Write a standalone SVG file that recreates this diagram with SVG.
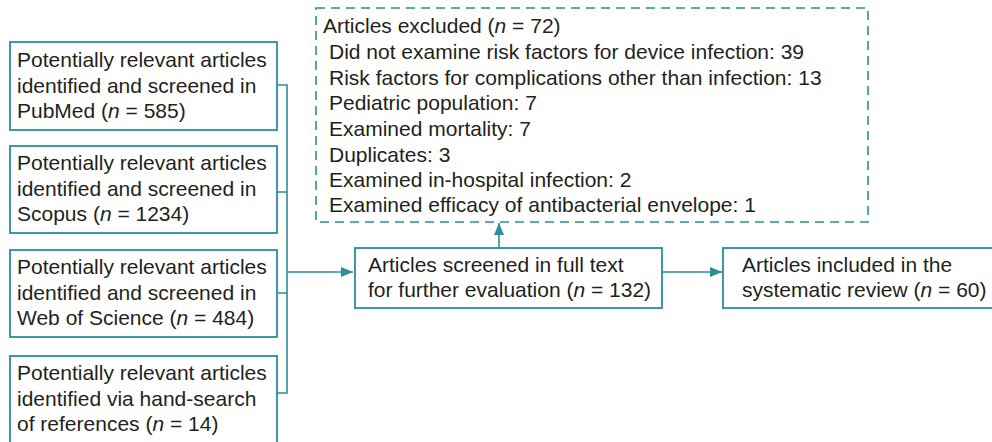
<svg xmlns="http://www.w3.org/2000/svg" width="992" height="442" viewBox="0 0 992 442">
<style>
.box{fill:#fff;stroke:#2a8e9b;stroke-width:1.8}
.dash{fill:none;stroke:#2a8e9b;stroke-width:1.6;stroke-dasharray:9 6}
.ln{fill:none;stroke:#2a8e9b;stroke-width:1.6}
text{font-family:"Liberation Sans",Arial,sans-serif;font-size:21px;fill:#231f20}
.i{font-style:italic}
</style>
<defs>
<marker id="ah" viewBox="0 0 12 10" refX="12" refY="5" markerWidth="12" markerHeight="10" markerUnits="userSpaceOnUse" orient="auto">
<path d="M0,0 L12,5 L0,10 z" fill="#2a8e9b"/>
</marker>
</defs>
<g id="connectors">
<path class="ln" d="M277,85 H287 V393 H277 M277,192 H287 M277,293 H287"/>
<path class="ln" d="M287,272 H353" marker-end="url(#ah)"/>
<path class="ln" d="M499,248 V223" marker-end="url(#ah)"/>
<path class="ln" d="M662,272 H722" marker-end="url(#ah)"/>
</g>
<g id="pubmed">
<rect class="box" x="10" y="42" width="267" height="88"/>
<text x="17" y="67">Potentially relevant articles</text>
<text x="17" y="93">identified and screened in</text>
<text x="17" y="118">PubMed (<tspan class="i">n</tspan> = 585)</text>
</g>
<g id="scopus">
<rect class="box" x="10" y="146" width="267" height="87"/>
<text x="17" y="170">Potentially relevant articles</text>
<text x="17" y="196">identified and screened in</text>
<text x="17" y="221">Scopus (<tspan class="i">n</tspan> = 1234)</text>
</g>
<g id="wos">
<rect class="box" x="10" y="250" width="267" height="87"/>
<text x="17" y="274">Potentially relevant articles</text>
<text x="17" y="300">identified and screened in</text>
<text x="17" y="325">Web of Science (<tspan class="i">n</tspan> = 484)</text>
</g>
<g id="handsearch">
<rect class="box" x="10" y="356" width="267" height="100"/>
<text x="17" y="380">Potentially relevant articles</text>
<text x="17" y="406">identified via hand-search</text>
<text x="17" y="431">of references (<tspan class="i">n</tspan> = 14)</text>
</g>
<g id="excluded">
<rect class="dash" x="316" y="8" width="552" height="214"/>
<text x="323" y="33">Articles excluded (<tspan class="i">n</tspan> = 72)</text>
<text x="329" y="59">Did not examine risk factors for device infection: 39</text>
<text x="329" y="85">Risk factors for complications other than infection: 13</text>
<text x="329" y="110">Pediatric population: 7</text>
<text x="329" y="136">Examined mortality: 7</text>
<text x="329" y="162">Duplicates: 3</text>
<text x="329" y="187">Examined in-hospital infection: 2</text>
<text x="329" y="212">Examined efficacy of antibacterial envelope: 1</text>
</g>
<g id="screened">
<rect class="box" x="355" y="248" width="307" height="60"/>
<text x="368" y="272">Articles screened in full text</text>
<text x="368" y="297">for further evaluation (<tspan class="i">n</tspan> = 132)</text>
</g>
<g id="included">
<rect class="box" x="723" y="248" width="280" height="60"/>
<text x="742" y="272">Articles included in the</text>
<text x="742" y="297">systematic review (<tspan class="i">n</tspan> = 60)</text>
</g>
</svg>
